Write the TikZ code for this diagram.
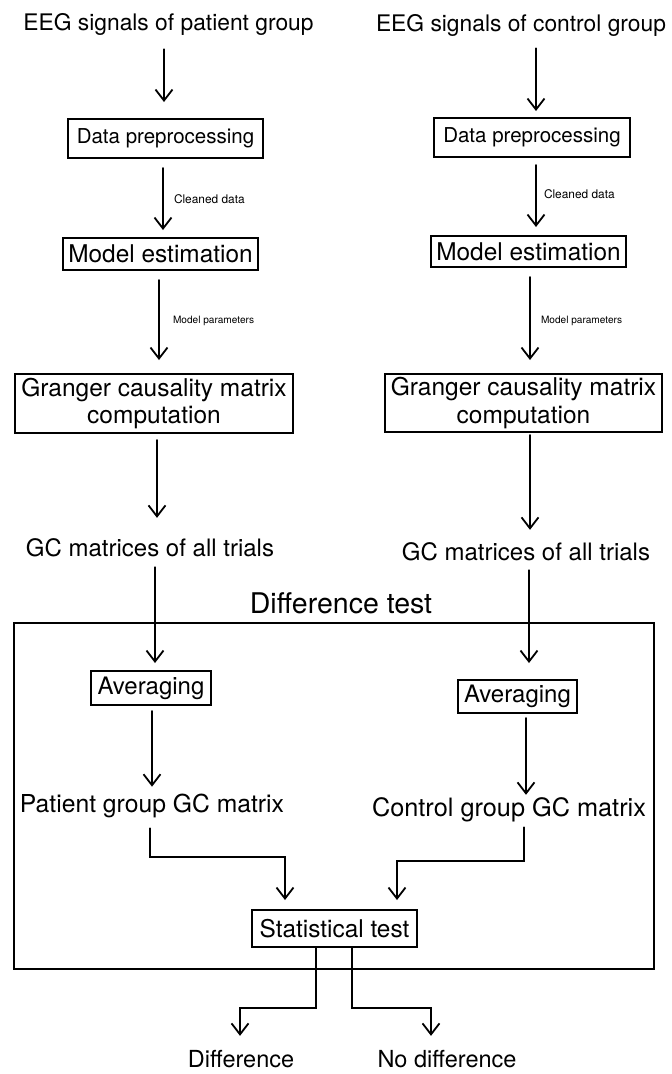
\documentclass[tikz,border=0pt]{standalone}
\usepackage{fontspec}
\setmainfont{TeX Gyre Heros}
\usetikzlibrary{arrows.meta,calc}
\begin{document}
\begin{tikzpicture}[x=1pt,y=-1pt,
  every node/.style={inner sep=0pt, outer sep=0pt},
  fsz/.style={font=\fontsize{#1}{28}\selectfont},
  bx/.style={draw, line width=#1},
  arr/.style={-{Straight Barb[length=11pt,width=17pt]}, line width=1.8pt, line cap=round},
  conn/.style={-{Straight Barb[length=11pt,width=17pt]}, line width=1.8pt, line cap=round, line join=miter}]
\useasboundingbox (0,0) rectangle (672,1074);

% titles
\node[fsz=22.8] (tL) at (168.5,24) {EEG signals of patient group};
\node[fsz=22.8] (tR) at (521,25) {EEG signals of control group};

% data preprocessing
\node[bx=1.3pt, minimum width=195pt, minimum height=39pt, fsz=20.5] (dpL) at (165.5,138.5) {Data preprocessing};
\node[bx=1.3pt, minimum width=196pt, minimum height=39pt, fsz=20.5] (dpR) at (532,137.5) {Data preprocessing};

% model estimation
\node[bx=2.4pt, minimum width=195pt, minimum height=32pt, fsz=24.4] (meL) at (160.5,254) {Model estimation};
\node[bx=2.4pt, minimum width=195pt, minimum height=31pt, fsz=24.4] (meR) at (528.5,251.5) {Model estimation};

% granger
\node[bx=1.8pt, minimum width=278pt, minimum height=59pt, align=center, font=\fontsize{24.5}{27.5}\selectfont] (gcL) at (154,403.5) {Granger causality matrix\\computation};
\node[bx=1.8pt, minimum width=277pt, minimum height=58pt, align=center, font=\fontsize{24.5}{27.5}\selectfont] (gcR) at (523.5,403) {Granger causality matrix\\computation};

% GC matrices
\node[fsz=24] (mL) at (150,548) {GC matrices of all trials};
\node[fsz=24] (mR) at (526,552) {GC matrices of all trials};

% difference test frame
\node[fsz=28.5] (dt) at (341,603) {Difference test};
\node[draw, line width=1.3pt, minimum width=640pt, minimum height=346pt] (outer) at (334,796) {};

% averaging
\node[bx=2.4pt, minimum width=120pt, minimum height=34pt, fsz=24] (avL) at (151,688) {Averaging};
\node[bx=2.4pt, minimum width=119pt, minimum height=33pt, fsz=24] (avR) at (517.5,696.5) {Averaging};

% group matrices
\node[fsz=24.7] (pL) at (152,806) {Patient group GC matrix};
\node[fsz=25.3] (cR) at (509,810) {Control group GC matrix};

% statistical test
\node[bx=1.8pt, minimum width=165pt, minimum height=37pt, fsz=24.4] (st) at (334.5,928.5) {Statistical test};

% outcomes
\node[fsz=23.5] (dL) at (241,1059) {Difference};
\node[fsz=23.5] (dR) at (447,1059) {No difference};

% small labels
\node[fsz=11.9, anchor=west] (lcL) at (174,199) {Cleaned data};
\node[fsz=11.9, anchor=west] (lcR) at (544,194) {Cleaned data};
\node[fsz=10.1, anchor=west] (lmL) at (173,321) {Model parameters};
\node[fsz=10.1, anchor=west] (lmR) at (541,321) {Model parameters};

% vertical arrows, left column
\draw[arr, shorten <=14.2pt, shorten >=17pt] ([xshift=-4.5pt]tL.south) -- ([xshift=-1.5pt]dpL.north);
\draw[arr, shorten <=10pt, shorten >=8pt] ([xshift=-2.5pt]dpL.south) -- ([xshift=2.5pt]meL.north);
\draw[arr, shorten <=10pt, shorten >=14pt] ([xshift=-1.5pt]meL.south) -- ([xshift=5pt]gcL.north);
\draw[arr, shorten <=7pt, shorten >=21pt] ([xshift=3pt]gcL.south) -- ([xshift=7pt]mL.north);
\draw[arr, shorten <=10pt, shorten >=8pt] ([xshift=5pt]mL.south) -- ([xshift=4pt]avL.north);
\draw[arr, shorten <=6pt, shorten >=7.4pt] ([xshift=1pt]avL.south) -- ([xshift=0pt]pL.north);

% vertical arrows, right column
\draw[arr, shorten <=12.3pt, shorten >=7pt] ([xshift=15pt]tR.south) -- ([xshift=4pt]dpR.north);
\draw[arr, shorten <=8pt, shorten >=9pt] ([xshift=4pt]dpR.south) -- ([xshift=7.5pt]meR.north);
\draw[arr, shorten <=10pt, shorten >=14pt] ([xshift=1.5pt]meR.south) -- ([xshift=6.5pt]gcR.north);
\draw[arr, shorten <=3pt, shorten >=13pt] ([xshift=6.5pt]gcR.south) -- ([xshift=4pt]mR.north);
\draw[arr, shorten <=9pt, shorten >=17pt] ([xshift=3pt]mR.south) -- ([xshift=11.5pt]avR.north);
\draw[arr, shorten <=5pt, shorten >=3pt] ([xshift=8.5pt]avR.south) -- ([xshift=17pt]cR.north);

% elbow connectors into statistical test
\draw[conn] ([xshift=-2pt,yshift=-10.4pt]pL.south) -- ++(0,29) -| ([xshift=-49.5pt,yshift=10pt]st.north);
\draw[conn] ([xshift=15pt,yshift=-5.1pt]cR.south) -- ++(0,34) -| ([xshift=62.5pt,yshift=10pt]st.north);

% outcomes
\draw[conn] ([xshift=-18.5pt]st.south) -- ++(0,61) -| ([xshift=-1pt,yshift=14.4pt]dL.north);
\draw[conn] ([xshift=17.5pt]st.south) -- ++(0,61) -| ([xshift=-16pt,yshift=14.4pt]dR.north);
\end{tikzpicture}
\end{document}
